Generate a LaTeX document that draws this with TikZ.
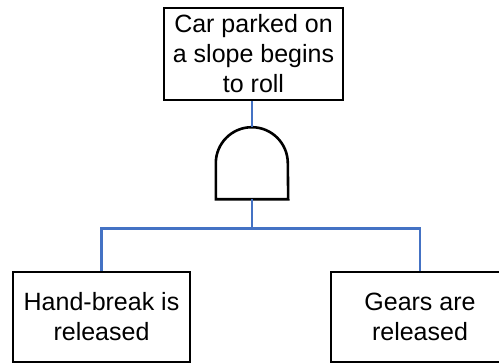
\documentclass[tikz,border=0pt]{standalone}
\usepackage{fontspec}
\setmainfont{Liberation Sans}
\definecolor{linkblue}{RGB}{68,114,196}
\begin{document}
\begin{tikzpicture}[x=1pt,y=1pt,
  eventbox/.style={draw=black,line width=2.6pt,align=center,inner sep=0pt,
    font=\fontsize{25}{30}\selectfont},
  link/.style={draw=linkblue,line width=2.6pt},
  gatebox/.style={inner sep=0pt,minimum width=72pt,minimum height=72pt}]
\useasboundingbox (0,0) rectangle (499,-364);
\clip (0,0) rectangle (499,-364);
\node[eventbox,minimum width=179pt,minimum height=92pt] (top) at (253.5,-54) {Car parked on\\a slope begins\\to roll};
\node[gatebox] (gate) at (252,-163) {};
\draw[line width=2.6pt] (gate.south west) -- ++(0,36) arc[start angle=180,end angle=0,radius=36pt] -- (gate.south east) -- cycle;
\node[eventbox,minimum width=177pt,minimum height=90pt] (left) at (101.5,-317) {Hand-break is\\released};
\node[eventbox,minimum width=178pt,minimum height=90pt] (right) at (420,-317) {Gears are\\released};
\coordinate (j) at (252,-228.5);
\draw[link] (gate.north) -- (gate.north |- top.south);
\draw[link] (gate.south) -- (j);
\draw[link] (j) -| (left.north);
\draw[link] (j) -| (right.north);
\end{tikzpicture}
\end{document}
